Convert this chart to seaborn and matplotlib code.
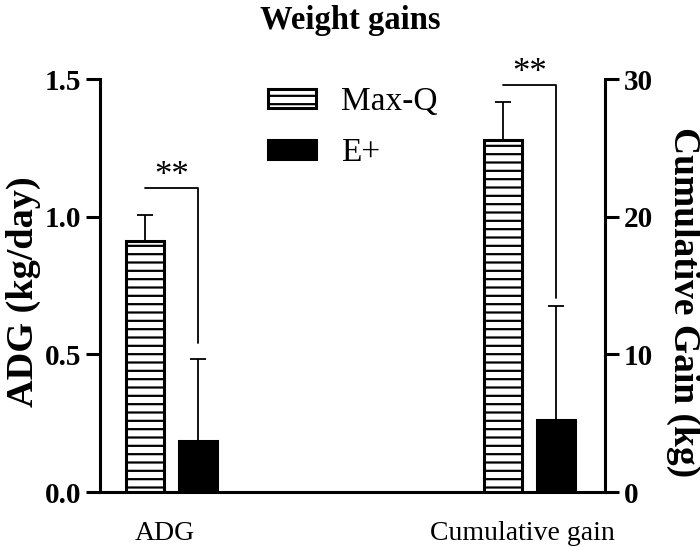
import pandas as pd
import matplotlib
matplotlib.use('Agg')
import matplotlib.pyplot as plt
import matplotlib.transforms as mtransforms
import seaborn as sns

# 数据
categories = ['ADG', 'Cumulative gain']
groups = ['Max-Q', 'E+']
adg_mean = [0.913, 0.185]
adg_err = [0.094, 0.297]
cum_mean = [25.6, 5.2]
cum_err = [2.7, 8.3]
sig_label = ['**', '**']
bracket_top = [1.105, 29.6]
bracket_bottom = [0.54, 14.1]

sns.set_theme(style='ticks')
plt.rcParams['font.family'] = ['Liberation Serif', 'DejaVu Serif']
plt.rcParams['hatch.linewidth'] = 1.6
plt.rcParams['hatch.color'] = 'black'
for key in ['text.color', 'axes.labelcolor', 'xtick.color', 'ytick.color']:
    plt.rcParams[key] = 'black'

df = pd.DataFrame({
    'category': [categories[0]] * 2 + [categories[1]] * 2,
    'group': groups * 2,
    'value': adg_mean + cum_mean,
    'err': adg_err + cum_err,
})

fig = plt.figure(figsize=(7, 5.47), dpi=100)
ax1 = fig.add_axes([0.143, 0.1005, 0.721, 0.755])
ax2 = ax1.twinx()

palette = {'Max-Q': 'white', 'E+': 'black'}
axes = [ax1, ax2]
for i, (ax, cat) in enumerate(zip(axes, categories)):
    sub = df[df['category'] == cat]
    sns.barplot(data=sub, x='category', y='value', hue='group', order=categories,
                hue_order=groups, palette=palette, width=0.296, gap=0.28,
                edgecolor='black', linewidth=2.2, errorbar=None, legend=False, ax=ax)
    ax.containers[0][0].set_hatch('--')
    xs = []
    for cont, (_, row) in zip(ax.containers, sub.iterrows()):
        bar = cont[0]
        x = bar.get_x() + bar.get_width() / 2
        xs.append(x)
        ax.errorbar(x, row['value'], yerr=[[0], [row['err']]], fmt='none',
                    ecolor='black', elinewidth=1.3, capsize=6, capthick=1.3)
    # 显著性标记
    ax.plot([xs[0], xs[1], xs[1]], [bracket_top[i], bracket_top[i], bracket_bottom[i]],
            color='black', lw=1.3, clip_on=False)
    ax.annotate(sig_label[i], xy=((xs[0] + xs[1]) / 2, bracket_top[i]),
                xytext=(0, -4), textcoords='offset points',
                ha='center', va='bottom', fontsize=25, annotation_clip=False)

ax1.set_xlim(-0.20, 1.21)
ax1.set_ylim(0, 1.5)
ax1.set_yticks([0, 0.5, 1.0, 1.5])
ax1.set_yticklabels(['0.0', '0.5', '1.0', '1.5'])
ax2.set_ylim(0, 30)
ax2.set_yticks([0, 10, 20, 30])
ax2.set_yticklabels(['0', '10', '20', '30'])

for lab in ax1.get_yticklabels() + ax2.get_yticklabels():
    lab.set_fontweight('bold')

ax1.set_ylabel('ADG (kg/day)', fontsize=27.5, fontweight='bold')
ax1.yaxis.set_label_coords(-0.118, 0.485)
ax2.set_ylabel('Cumulative Gain (kg)', fontsize=27, fontweight='bold',
               rotation=270, va='bottom')
ax2.yaxis.set_label_coords(1.122, 0.46)
ax1.set_xlabel('')
ax2.set_xlabel('')

ax1.tick_params(axis='y', direction='out', length=10, width=2.2, labelsize=21)
ax2.tick_params(axis='y', direction='out', length=10, width=2.2, labelsize=21)
ax1.tick_params(axis='x', length=0, labelsize=20, pad=21)
shift = mtransforms.ScaledTranslation(-0.07, 0, fig.dpi_scale_trans)
for lab in ax1.get_xticklabels():
    lab.set_transform(lab.get_transform() + shift)

ax1.spines['top'].set_visible(False)
ax1.spines['right'].set_visible(False)
ax2.spines['top'].set_visible(False)
ax2.spines['left'].set_visible(False)
ax2.spines['bottom'].set_visible(False)
for sp in ['left', 'bottom']:
    ax1.spines[sp].set_linewidth(2.2)
    ax1.spines[sp].set_color('black')
ax2.spines['right'].set_linewidth(2.2)
ax2.spines['right'].set_color('black')

ax2.legend(handles=[ax1.containers[0][0], ax1.containers[1][0]], labels=groups,
           loc='upper left', bbox_to_anchor=(0.383, 0.842), bbox_transform=fig.transFigure,
           frameon=False, fontsize=24, handlelength=1.45, handleheight=0.5,
           handletextpad=0.73, labelspacing=0.62, borderpad=0, borderaxespad=0)

fig.text(0.5, 0.962, 'Weight gains', ha='center', va='center', fontsize=23.5, fontweight='bold')

plt.savefig('out.png', dpi=100)
